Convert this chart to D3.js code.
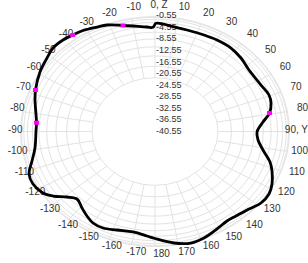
<!DOCTYPE html>
<html><head><meta charset="utf-8">
<script src="https://cdn.jsdelivr.net/npm/d3@7"></script>
<style>html,body{margin:0;padding:0;background:#fff;}svg{display:block}</style>
</head><body>
<svg id="c" width="308" height="263"></svg>
<script>
// ---- data ----
const angleDeg = [-176.25,-169.4,-161.74,-155.26,-149.91,-145.47,-140.79,-135.35,-131.04,-126.49,-122.71,-116.71,-111.53,-105.67,-99.14,-89.72,-85.04,-72.93,-67.89,-58.83,-51.48,-46.25,-40.68,-36.1,-31.36,-25.39,-21.07,-14.47,-3.75,-0.94,0.45,7.39,15.09,23.47,30.09,37.9,45.01,52.58,62.84,69.47,73.97,79.3,84.13,90.3,95.51,101.33,107.23,111.55,117.69,122.67,128.27,133.96,140.67,145.48,151.46,158.53,164.57,171.71,180];
const gainDb = [-4.13,-5.01,-4.47,-3.59,-3.77,-4.87,-6.21,-7.55,-5.85,-2.82,-0.96,0.07,-0.27,-2.56,-4.40,-5.16,-5.18,-3.22,-2.19,-0.57,0.50,1.45,1.42,0.99,0.59,-0.32,-0.85,-2.47,-4.13,-4.30,-2.91,-3.55,-3.99,-3.96,-3.77,-3.75,-4.39,-5.35,-5.12,-4.35,-4.65,-5.89,-8.26,-10.21,-9.77,-7.79,-4.74,-3.14,-1.25,-0.27,-0.40,-1.71,-2.55,-2.77,-1.95,-0.74,-0.31,-1.36,-3.33];
const markerDeg = [-85.04,-67.89,-36.1,-14.47,79.3];
const markerDb = [-5.18,-2.19,0.99,-2.47,-5.89];
const radialTicks = [-40.55,-36.55,-32.55,-28.55,-24.55,-20.55,-16.55,-12.55,-8.55,-4.55,-0.55];
const radialTickLabels = ["-40.55","-36.55","-32.55","-28.55","-24.55","-20.55","-16.55","-12.55","-8.55","-4.55","-0.55"];
const angleTicks = [0,10,20,30,40,50,60,70,80,90,100,110,120,130,140,150,160,170,180,190,200,210,220,230,240,250,260,270,280,290,300,310,320,330,340,350];
const angleTickLabels = ["0, Z","10","20","30","40","50","60","70","80","90, Y","100","110","120","130","140","150","160","170","180","-170","-160","-150","-140","-130","-120","-110","-100","-90","-80","-70","-60","-50","-40","-30","-20","-10"];

// ---- layout ----
const W=308,H=263,cx=155,cy=131.5,rx=134.5,ry=115;
const svg=d3.select('#c');
const ang=d3.scaleLinear().domain([0,360]).range([0,2*Math.PI]);
const rData=d3.scaleLinear().domain([-40.55,-0.55]).range([0,1]);
const rRing=d3.scalePow().exponent(2).domain([-55.6,-0.55]).range([0,1]);
const px=(a,f)=>cx+rx*f*Math.sin(ang(a));
const py=(a,f)=>cy-ry*f*Math.cos(ang(a));
const gridCol='#e3e3e3';

const g=svg.append('g');
g.selectAll('ellipse.ring').data(radialTicks).join('ellipse')
 .attr('cx',cx).attr('cy',cy)
 .attr('rx',d=>rx*rRing(d)).attr('ry',d=>ry*rRing(d))
 .attr('fill','none').attr('stroke',gridCol).attr('stroke-width',1);
const inner=rRing(radialTicks[0]);
g.selectAll('line.spoke').data(angleTicks).join('line')
 .attr('x1',d=>px(d,inner)).attr('y1',d=>py(d,inner))
 .attr('x2',d=>px(d,1)).attr('y2',d=>py(d,1))
 .attr('stroke',gridCol).attr('stroke-width',1);

// radial labels
const labY=d3.scaleLinear().domain([-40.55,-0.55]).range([cy-1,cy-ry-1.2]);
svg.selectAll('text.rl').data(radialTicks).join('text')
 .attr('x',cx+1).attr('y',d=>labY(d)).attr('dy','0.35em')
 .attr('text-anchor','start')
 .attr('font-family','Liberation Sans, Arial, sans-serif').attr('font-size',9)
 .attr('fill','#333')
 .text((d,i)=>radialTickLabels[i]);

// angular labels
const Lx=145,Ly=124.3,lcy=129;
svg.selectAll('text.al').data(angleTicks).join('text')
 .attr('font-family','Liberation Sans, Arial, sans-serif').attr('font-size',10)
 .attr('fill','#333').attr('text-anchor','middle').attr('dy','0.35em')
 .text((d,i)=>angleTickLabels[i])
 .each(function(d){
   const lcx=160.25-1.25*Math.cos(ang(d));
   let x=lcx+Lx*Math.sin(ang(d));
   const w=this.getComputedTextLength();
   x=Math.min(x,W-w/2);
   d3.select(this).attr('x',x).attr('y',lcy-Ly*Math.cos(ang(d)));
 });

// pattern line
const pts=angleDeg.map((a,i)=>[px(a,rData(gainDb[i])),py(a,rData(gainDb[i]))]);
svg.append('path').datum(pts)
 .attr('d',d3.line().curve(d3.curveCatmullRomClosed.alpha(0.5)))
 .attr('fill','none').attr('stroke','#000').attr('stroke-width',2.8).attr('stroke-linejoin','round');

// markers
svg.selectAll('rect.mk').data(markerDeg).join('rect')
 .attr('x',(d,i)=>px(d,rData(markerDb[i]))-2.5)
 .attr('y',(d,i)=>py(d,rData(markerDb[i]))-2)
 .attr('width',5).attr('height',4)
 .attr('fill','#ff00ff');
</script>
</body></html>
